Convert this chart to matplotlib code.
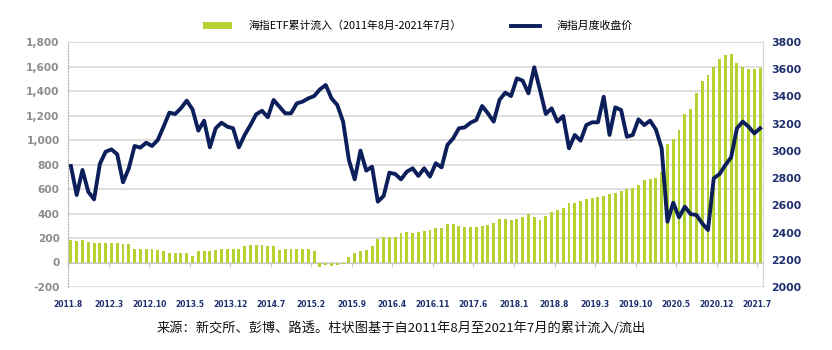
import numpy as np
import pandas as pd
import matplotlib
matplotlib.use("Agg")
import matplotlib.pyplot as plt
from matplotlib.patches import Patch
from matplotlib.lines import Line2D

# 2011年8月 ~ 2021年7月 月度数据
months = pd.period_range("2011-08", "2021-07", freq="M")

# 海指ETF累计流入 (左轴)
flows = [180, 174, 180, 169, 163, 158, 158, 158, 158, 152,
         152, 114, 109, 109, 109, 103, 90, 76, 76, 76,
         76, 57, 90, 95, 95, 100, 109, 114, 112, 112,
         136, 144, 144, 144, 136, 136, 98, 109, 112, 112,
         112, 112, 90, -35, -22, -28, -20, -15, 44, 76,
         90, 103, 131, 190, 207, 212, 207, 238, 249, 244,
         252, 257, 263, 284, 279, 312, 312, 298, 293, 287,
         293, 301, 306, 320, 355, 355, 347, 352, 374, 396,
         369, 347, 380, 412, 429, 448, 488, 488, 502, 521,
         529, 535, 543, 556, 570, 581, 597, 611, 633, 673,
         681, 687, 741, 967, 1008, 1082, 1212, 1253, 1386, 1484,
         1531, 1593, 1659, 1697, 1702, 1631, 1599, 1580, 1577, 1590]

# 海指月度收盘价 (右轴)
close = [2889, 2676, 2860, 2700, 2644, 2904, 2994, 3011, 2975, 2769,
         2872, 3036, 3024, 3060, 3036, 3080, 3178, 3281, 3271, 3313,
         3369, 3305, 3149, 3222, 3026, 3166, 3207, 3178, 3166, 3026,
         3117, 3190, 3269, 3295, 3247, 3374, 3325, 3276, 3276, 3349,
         3362, 3386, 3403, 3452, 3484, 3386, 3337, 3215, 2933, 2791,
         3002, 2855, 2884, 2627, 2669, 2840, 2830, 2791, 2847, 2872,
         2816, 2872, 2811, 2909, 2879, 3043, 3092, 3166, 3173, 3207,
         3227, 3330, 3276, 3215, 3374, 3428, 3403, 3533, 3516, 3423,
         3614, 3447, 3271, 3313, 3215, 3256, 3019, 3117, 3075, 3190,
         3210, 3210, 3398, 3117, 3320, 3300, 3104, 3117, 3232, 3190,
         3222, 3158, 3019, 2480, 2619, 2512, 2590, 2536, 2529, 2468,
         2419, 2798, 2830, 2896, 2953, 3166, 3215, 3178, 3129, 3166]

tick_labels = ["2011.8", "2012.3", "2012.10", "2013.5", "2013.12", "2014.7",
               "2015.2", "2015.9", "2016.4", "2016.11", "2017.6", "2018.1",
               "2018.8", "2019.3", "2019.10", "2020.5", "2020.12", "2021.7"]

bar_color = "#b4d234"
line_color = "#0c1f5b"
cjk = ["Noto Sans CJK SC", "DejaVu Sans"]

x = np.arange(len(months))

fig = plt.figure(figsize=(8.32, 3.5), dpi=100)
ax = fig.add_axes([68 / 832, 63 / 350, 695 / 832, 245 / 350])
ax2 = ax.twinx()

ax.bar(x, flows, width=0.5, color=bar_color, zorder=2)
ax2.plot(x, close, color=line_color, lw=2.8, zorder=3)

# 左轴
ax.set_xlim(-0.5, len(months) - 0.5)
ax.set_ylim(-200, 1800)
ax.set_yticks(range(-200, 1801, 200))
ax.set_yticklabels([f"{v:,}" for v in range(-200, 1801, 200)])
ax.tick_params(axis="y", length=0, pad=6, labelsize=7.6, labelcolor="#8c8c8c")
for t in ax.get_yticklabels():
    t.set_fontweight("bold")
ax.grid(axis="y", color="#d9d9d9", lw=1.2, zorder=0)
ax.set_axisbelow(True)

# 横轴: 刻度在0线上
ax.spines["bottom"].set_position(("data", 0))
ax.spines["bottom"].set_color("#c8c8c8")
ax.spines["bottom"].set_zorder(1)
ax.set_xticks([i - 0.5 for i in range(0, len(months), 7)])
ax.set_xticklabels(tick_labels)
ax.tick_params(axis="x", length=3, color="#c8c8c8", pad=24,
               labelsize=5.5, labelcolor="#1f2f6e")
for t in ax.get_xticklabels():
    t.set_fontweight("bold")

ax.spines["left"].set_linestyle(":")
ax.spines["left"].set_color("#b0b0b0")
for s in ["top", "right"]:
    ax.spines[s].set_color("#d9d9d9")

# 右轴
ax2.set_ylim(2000, 3800)
ax2.set_yticks(range(2000, 3801, 200))
ax2.tick_params(axis="y", length=0, pad=6, labelsize=7.8, labelcolor="#1f2f6e")
for t in ax2.get_yticklabels():
    t.set_fontweight("bold")
for s in ax2.spines.values():
    s.set_visible(False)
ax2.spines["right"].set_visible(True)
ax2.spines["right"].set_color("#d9d9d9")

# 图例
handles = [Patch(facecolor=bar_color, edgecolor="none"),
           Line2D([0], [0], color=line_color, lw=2.8)]
names = ["海指ETF累计流入（2011年8月-2021年7月）", "海指月度收盘价"]
fig.legend(handles, names, loc="center", bbox_to_anchor=(0.502, 1 - 26 / 350),
           ncol=2, frameon=False, prop={"family": cjk, "size": 7.8},
           handlelength=2.7, handleheight=0.6, handletextpad=1.5, columnspacing=4.6)

fig.text(0.482, 1 - 328 / 350,
         "来源：新交所、彭博、路透。柱状图基于自2011年8月至2021年7月的累计流入/流出",
         ha="center", va="center", fontsize=9.5, family=cjk, color="#111111")

fig.savefig("out.png", dpi=100)
